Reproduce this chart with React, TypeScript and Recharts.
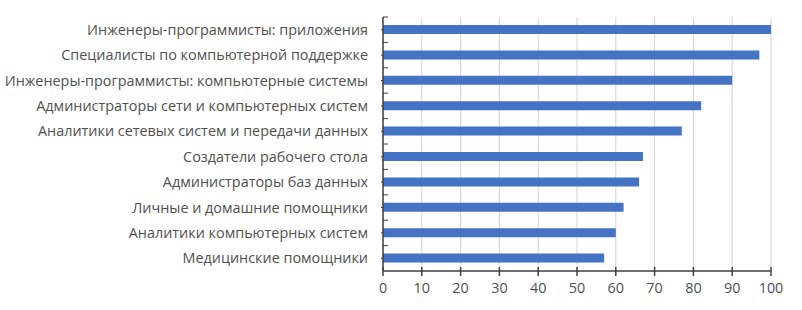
import React from "react";
import { BarChart, Bar, XAxis, YAxis, CartesianGrid } from "recharts";

const categories = [
  "Инженеры-программисты: приложения",
  "Специалисты по компьютерной поддержке",
  "Инженеры-программисты: компьютерные системы",
  "Администраторы сети и компьютерных систем",
  "Аналитики сетевых систем и передачи данных",
  "Создатели рабочего стола",
  "Администраторы баз данных",
  "Личные и домашние помощники",
  "Аналитики компьютерных систем",
  "Медицинские помощники",
];
const values = [100, 97, 90, 82, 77, 67, 66, 62, 60, 57];
const xTicks = [0, 10, 20, 30, 40, 50, 60, 70, 80, 90, 100];

const data = categories.map((name, i) => ({ name, value: values[i] }));

const W = 802;
const H = 310;
const TOP = 17;
const AXIS_Y = 271;
const Y_AXIS_W = 383;
const HALF_BAND = (AXIS_Y - TOP) / categories.length / 2;
const FONT = "'Open Sans', 'Noto Sans', sans-serif";
const TEXT = "#505050";
const AXIS = "#404040";

const YTick = (props: any) => {
  const { x, y, payload } = props;
  const ax = Y_AXIS_W;
  return (
    <g>
      <line x1={ax} x2={ax + 5} y1={y - HALF_BAND} y2={y - HALF_BAND} stroke={AXIS} strokeWidth={1} />
      <line x1={ax - 2} x2={ax} y1={y} y2={y} stroke={AXIS} strokeWidth={1} />
      <text x={x} y={y} dy="0.35em" textAnchor="end" fill={TEXT} fontSize={14.4} fontFamily={FONT}>
        {payload.value}
      </text>
    </g>
  );
};

const XTick = (props: any) => {
  const { x, y, payload } = props;
  return (
    <g>
      <line x1={x} x2={x} y1={AXIS_Y - 4} y2={AXIS_Y + 5} stroke={AXIS} strokeWidth={1.5} />
      <text x={x} y={y} dy="0.71em" textAnchor="middle" fill={TEXT} fontSize={14.4} fontFamily={FONT}>
        {payload.value}
      </text>
    </g>
  );
};

export default function App() {
  return (
    <div style={{ position: "absolute", left: 0, top: 0, width: W, height: H, background: "#fff" }}>
      <BarChart
        width={W}
        height={H}
        data={data}
        layout="vertical"
        margin={{ top: TOP, right: 31, bottom: 0, left: 0 }}
        barSize={9}
      >
        <CartesianGrid horizontal={false} vertical={true} stroke="#d4d4d4" />
        <XAxis
          type="number"
          domain={[0, 100]}
          ticks={xTicks}
          interval={0}
          height={H - AXIS_Y}
          tickLine={false}
          tickSize={5}
          tickMargin={7}
          axisLine={{ stroke: AXIS, strokeWidth: 1.5 }}
          tick={<XTick />}
        />
        <YAxis
          type="category"
          dataKey="name"
          width={Y_AXIS_W}
          interval={0}
          tickLine={false}
          tickSize={0}
          tickMargin={15}
          axisLine={{ stroke: AXIS, strokeWidth: 1.5 }}
          tick={<YTick />}
        />
        <Bar dataKey="value" fill="#4472C4" isAnimationActive={false} />
      </BarChart>
    </div>
  );
}
